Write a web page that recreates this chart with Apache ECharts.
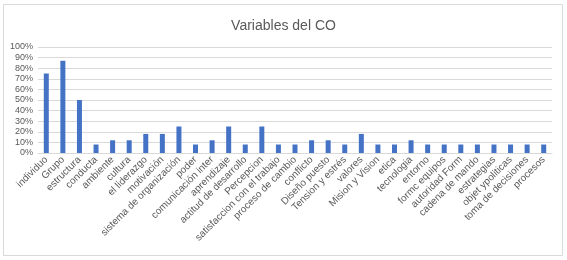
<!DOCTYPE html>
<html>
<head>
<meta charset="utf-8">
<script src="https://cdn.jsdelivr.net/npm/echarts@6/dist/echarts.min.js"></script>
<style>
  html, body { margin: 0; padding: 0; background: #fff; }
  #chart { width: 567px; height: 260px; }
</style>
</head>
<body>
<div id="chart"></div>
<script>
// categorias del grafico
var categorias = ['individuo', 'Grupo', 'estructura', 'conducta', 'ambiente', 'cultura',
  'el liderazgo', 'motivación', 'sistema de organización', 'poder', 'comunicación inter',
  'aprendizaje', 'actitud de desarrollo', 'Percepcion', 'satisfaccion con el trabajo',
  'proceso de cambio', 'conflicto', 'Diseño puesto', 'Tension y estrés', 'valores',
  'Mision y Vision', 'etica', 'tecnologia', 'entorno', 'formc equipos', 'autoridad Form',
  'cadena de mando', 'estrategias', 'objet ypoliticas', 'toma de decisiones', 'procesos'];

// porcentajes (0-1)
var valores = [0.75, 0.87, 0.50, 0.08, 0.12, 0.12,
  0.18, 0.18, 0.25, 0.08, 0.12,
  0.25, 0.08, 0.25, 0.08,
  0.08, 0.12, 0.12, 0.08, 0.18,
  0.08, 0.08, 0.12, 0.08, 0.08, 0.08,
  0.08, 0.08, 0.08, 0.08, 0.08];

var titulo = 'Variables del CO';

var fuente = '"Liberation Sans", Arial, sans-serif';

var myChart = echarts.init(document.getElementById('chart'));
var option = {
    animation: false,
    title: {
        text: titulo,
        left: 'center',
        top: 14,
        textStyle: {
            fontFamily: fuente,
            fontSize: 14,
            fontWeight: 'normal',
            color: '#595959'
        }
    },
    graphic: [{
        type: 'rect',
        shape: { x: 3.5, y: 4.5, width: 559, height: 251 },
        style: { fill: 'none', stroke: '#d9d9d9', lineWidth: 1 },
        silent: true
    }],
    grid: {
        left: 38,
        right: 15,
        top: 47,
        height: 106,
        containLabel: false
    },
    xAxis: {
        type: 'category',
        data: categorias,
        axisLine: { lineStyle: { color: '#d9d9d9' } },
        axisTick: { show: false },
        axisLabel: {
            interval: 0,
            rotate: 45,
            margin: 5,
            fontFamily: fuente,
            fontSize: 10,
            color: '#595959'
        }
    },
    yAxis: {
        type: 'value',
        min: 0,
        max: 1,
        interval: 0.1,
        axisLine: { show: false },
        axisTick: { show: false },
        splitLine: { lineStyle: { color: '#d9d9d9' } },
        axisLabel: {
            margin: 5,
            fontFamily: fuente,
            fontSize: 9,
            color: '#595959',
            formatter: function (v) { return Math.round(v * 100) + '%'; }
        }
    },
    series: [{
        name: titulo,
        type: 'bar',
        data: valores,
        barWidth: 5,
        itemStyle: { color: '#4472C4' }
    }]
};
myChart.setOption(option);
</script>
</body>
</html>
